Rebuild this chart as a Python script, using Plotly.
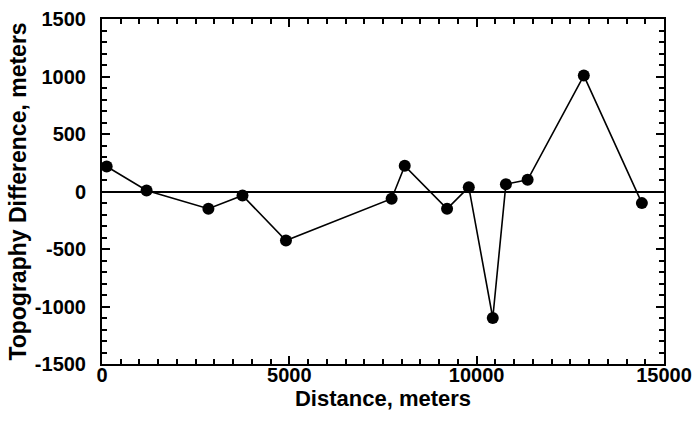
import plotly.graph_objects as go

distance_m = [125, 1190, 2840, 3750, 4910, 7730, 8080, 9210, 9790, 10430, 10780, 11360, 12860, 14410]
topo_diff_m = [217, 9, -150, -35, -426, -63, 223, -150, 38, -1100, 64, 102, 1008, -101]

x_ticks = [0, 5000, 10000, 15000]
y_ticks = [-1500, -1000, -500, 0, 500, 1000, 1500]

FONT = "Liberation Sans"

fig = go.Figure()
fig.add_trace(go.Scatter(
    x=distance_m, y=topo_diff_m, mode="lines+markers",
    line=dict(color="black", width=1.6),
    marker=dict(color="black", size=12),
    cliponaxis=False, showlegend=False,
))

axis_common = dict(
    showline=True, linecolor="black", linewidth=2, mirror="allticks",
    ticks="inside", ticklen=8, tickwidth=2, tickcolor="black",
    showgrid=False, automargin=False,
    tickfont=dict(family=FONT, size=20, color="black", weight="bold"),
)

fig.update_xaxes(
    range=[0, 15000], tickvals=x_ticks, ticktext=[str(v) for v in x_ticks],
    minor=dict(tickvals=list(range(0, 15001, 500)), ticks="inside", ticklen=5, tickwidth=2, tickcolor="black"),
    zeroline=False,
    ticklabelstandoff=-8,
    title=dict(text="Distance, meters", font=dict(family=FONT, size=22, color="black", weight="bold"), standoff=2),
    **axis_common,
)
fig.update_yaxes(
    range=[-1500, 1500], tickvals=y_ticks, ticktext=[str(v) for v in y_ticks],
    minor=dict(tickvals=list(range(-1500, 1501, 100)), ticks="inside", ticklen=5, tickwidth=2, tickcolor="black"),
    zeroline=True, zerolinecolor="black", zerolinewidth=2,
    ticklabelstandoff=10,
    title=dict(text="Topography Difference, meters", font=dict(family=FONT, size=23, color="black", weight="bold"), standoff=2),
    **axis_common,
)

fig.update_layout(
    width=696, height=422,
    margin=dict(l=102, r=32, t=19, b=58),
    paper_bgcolor="white", plot_bgcolor="white",
)

fig.write_html("out.html", config={"displayModeBar": False},
               post_script="document.body.style.margin='0';")
